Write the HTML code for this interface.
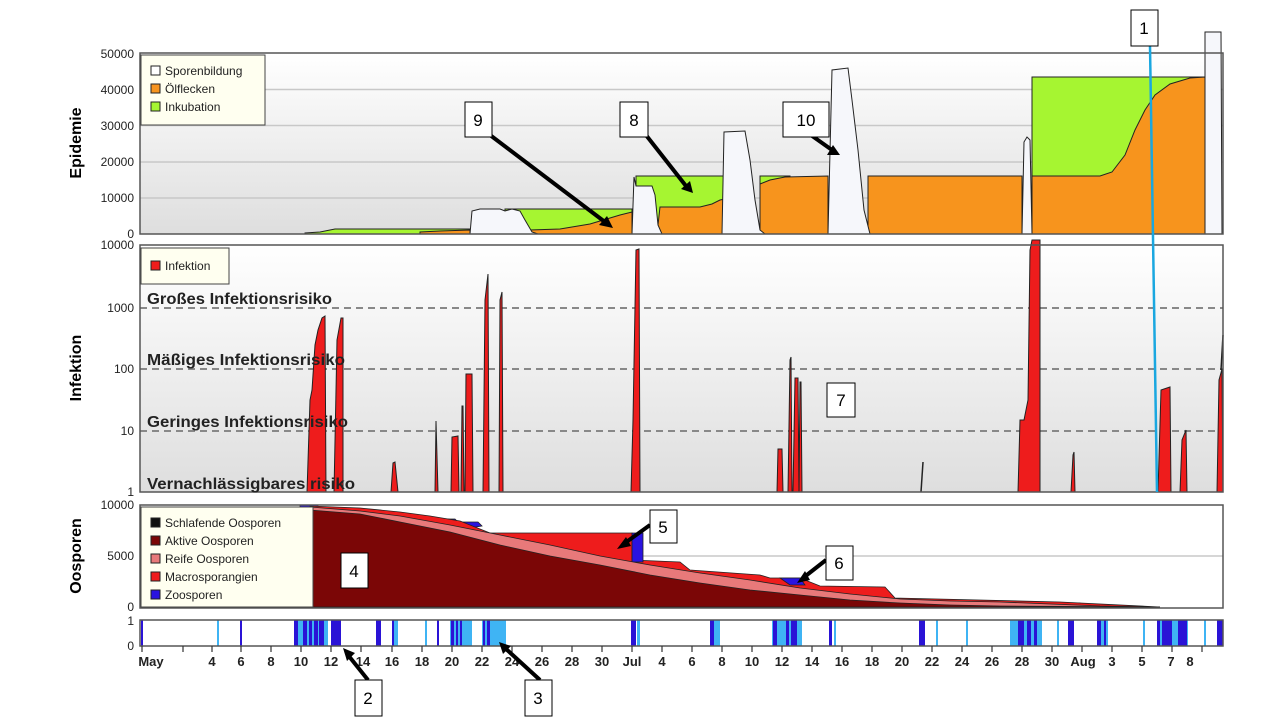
<!DOCTYPE html>
<html><head><meta charset="utf-8"><style>
html,body{margin:0;padding:0;background:#fff;}
svg{display:block;font-family:"Liberation Sans",Arial,sans-serif;}
</style></head><body>
<svg width="1280" height="720" viewBox="0 0 1280 720" xmlns="http://www.w3.org/2000/svg">
<defs>
<linearGradient id="bg" x1="0" y1="0" x2="0" y2="1"><stop offset="0" stop-color="#ffffff"/><stop offset="1" stop-color="#dedede"/></linearGradient>
</defs>
<rect width="1280" height="720" fill="#fff"/>

<!-- ===== Epidemie panel ===== -->
<rect x="140" y="53" width="1083" height="181" fill="url(#bg)"/>
<g stroke="#c8c8c8" stroke-width="1.5">
<line x1="140" y1="198" x2="1223" y2="198"/><line x1="140" y1="162" x2="1223" y2="162"/>
<line x1="140" y1="125.5" x2="1223" y2="125.5"/><line x1="140" y1="89.5" x2="1223" y2="89.5"/>
</g>
<g stroke="#222" stroke-width="1">
<polygon fill="#a6f531" points="305,234 305,233 320,232 335,229 470,229 470,234"/>
<polygon fill="#a6f531" points="505,234 505,209 632,209 632,234"/>
<polygon fill="#a6f531" points="636,234 636,176 725,176 725,234"/>
<polygon fill="#a6f531" points="760,234 760,176 790,176 790,234"/>
<polygon fill="#a6f531" points="1032,234 1032,77 1205,77 1205,234"/>
<polygon fill="#f7941d" points="420,234 420,232 440,231 470,230 470,234"/>
<polygon fill="#f7941d" points="528,234 530,230 560,229 590,224 620,215 632,212 632,234"/>
<polygon fill="#f7941d" points="657,234 660,207 700,207 712,204 720,200 725,199 725,234"/>
<polygon fill="#f7941d" points="760,234 760,184 770,180 785,177 828,176 828,234"/>
<polygon fill="#f7941d" points="868,234 868,176 1022,176 1022,234"/>
<polygon fill="#f7941d" points="1032,234 1032,176 1100,176 1112,172 1125,155 1135,130 1145,110 1155,95 1170,84 1190,78 1205,77 1205,234"/>
<polygon fill="#f6f7fb" points="470,234 472,211 480,209 500,209 505,211 512,209 520,211 525,220 532,232 538,234"/>
<polygon fill="#f6f7fb" points="632,234 634,177 636,186 652,186 655,195 658,225 662,234"/>
<polygon fill="#f6f7fb" points="722,234 724,132 745,131 750,160 755,200 760,230 765,234"/>
<polygon fill="#f6f7fb" points="828,234 832,70 848,68 852,100 858,150 864,210 870,234"/>
<polygon fill="#f6f7fb" points="1022,234 1024,142 1027,137 1030,140 1032,234"/>
<polygon fill="#f6f7fb" points="1205,234 1205,32 1221,32 1222,234"/>
</g>
<rect x="140" y="53" width="1083" height="181" fill="none" stroke="#555" stroke-width="1.5"/>
<g font-size="12" fill="#222" text-anchor="end">
<text x="134" y="238">0</text><text x="134" y="202">10000</text><text x="134" y="166">20000</text>
<text x="134" y="130">30000</text><text x="134" y="94">40000</text><text x="134" y="58">50000</text>
</g>
<text transform="translate(81,143) rotate(-90)" font-size="16" font-weight="bold" text-anchor="middle">Epidemie</text>
<rect x="141" y="55" width="124" height="70" fill="#fffff0" stroke="#444"/>
<g font-size="12" fill="#222">
<rect x="151" y="66" width="9" height="9" fill="#fff" stroke="#222"/><text x="165" y="75">Sporenbildung</text>
<rect x="151" y="84" width="9" height="9" fill="#f7941d" stroke="#222"/><text x="165" y="93">Ölflecken</text>
<rect x="151" y="102" width="9" height="9" fill="#a6f531" stroke="#222"/><text x="165" y="111">Inkubation</text>
</g>

<!-- ===== Infektion panel ===== -->
<rect x="140" y="245" width="1083" height="247" fill="url(#bg)"/>
<g stroke="#888" stroke-width="2" stroke-dasharray="7,5">
<line x1="140" y1="308" x2="1223" y2="308"/><line x1="140" y1="369" x2="1223" y2="369"/><line x1="140" y1="431" x2="1223" y2="431"/>
</g>
<g fill="#ee1c1c" stroke="#222" stroke-width="1">
<polygon points="307,492 310,400 312,390 315,345 318,330 322,318 325,316 326,492"/>
<polygon points="334,492 337,340 341,318 343,318 343,492"/>
<polygon points="391,492 393,463 395,462 398,492"/>
<polygon points="435,492 436,421 438,492"/>
<polygon points="451,492 452,437 458,436 459,492"/>
<polygon points="461,492 462,406 463,406 464,492"/>
<polygon points="465,492 466,374 472,374 473,492"/>
<polygon points="483,492 485,300 488,274 489,492"/>
<polygon points="499,492 500,300 502,292 503,492"/>
<polygon points="631,492 633,420 636,250 639,249 640,492"/>
<polygon points="777,492 778,449 782,449 783,492"/>
<polygon points="788,492 790,360 791,357 792,492"/>
<polygon points="793,492 795,378 798,378 799,492"/>
<polygon points="799,492 800,382 801,382 802,492"/>
<polygon points="1018,492 1020,420 1024,420 1028,400 1030,250 1032,240 1040,240 1040,492"/>
<polygon points="1071,492 1073,455 1074,452 1075,492"/>
<polygon points="1158,492 1161,390 1170,387 1171,492"/>
<polygon points="1180,492 1182,440 1186,430 1187,492"/>
<polygon points="1217,492 1219,380 1222,369 1223,492"/>
</g>
<line x1="921" y1="492" x2="923" y2="462" stroke="#222" stroke-width="1.5"/>
<line x1="1221" y1="370" x2="1223" y2="335" stroke="#222" stroke-width="1.5"/>
<rect x="140" y="245" width="1083" height="247" fill="none" stroke="#555" stroke-width="1.5"/>
<g font-size="12" fill="#222" text-anchor="end">
<text x="134" y="249">10000</text><text x="134" y="312">1000</text><text x="134" y="373">100</text>
<text x="134" y="435">10</text><text x="134" y="496">1</text>
</g>
<g font-size="16" font-weight="bold" fill="#222" lengthAdjust="spacingAndGlyphs">
<text x="147" y="304" textLength="185" lengthAdjust="spacingAndGlyphs">Großes Infektionsrisiko</text>
<text x="147" y="365" textLength="198" lengthAdjust="spacingAndGlyphs">Mäßiges Infektionsrisiko</text>
<text x="147" y="427" textLength="201" lengthAdjust="spacingAndGlyphs">Geringes Infektionsrisiko</text>
<text x="147" y="489" textLength="208" lengthAdjust="spacingAndGlyphs">Vernachlässigbares risiko</text>
</g>
<text transform="translate(81,368) rotate(-90)" font-size="16" font-weight="bold" text-anchor="middle">Infektion</text>
<rect x="141" y="248" width="88" height="36" fill="#fffff0" stroke="#444"/>
<rect x="151" y="261" width="9" height="9" fill="#ee1c1c" stroke="#222"/><text x="165" y="270" font-size="12" fill="#222">Infektion</text>

<!-- ===== Oosporen panel ===== -->
<rect x="140" y="505" width="1083" height="103" fill="#fff"/>
<line x1="140" y1="556" x2="1223" y2="556" stroke="#c8c8c8" stroke-width="1.5"/>
<g stroke="#222" stroke-width="0.8">
<polygon fill="#2a13e0" points="300,505 318,505 318,510 300,510"/>
<polygon fill="#2a13e0" points="438,519 455,519 458,522 478,522 482,526 470,528 440,523"/>
<polygon fill="#2a13e0" points="1068,604 1080,603 1084,606 1070,606"/>
<polygon fill="#ee1c1c" points="310,607 310,506 360,508 400,512 430,516 460,521 490,533 632,533 632,560 680,562 690,570 760,575 770,578 800,578 820,586 885,587 895,598 1060,602 1160,607"/>
<polygon fill="#2a13e0" points="632,533 643,533 643,562 632,562"/>
<polygon fill="#2a13e0" points="780,578 800,578 805,585 790,585"/>
<polygon fill="#e8797a" points="310,607 310,507 360,511 400,516 450,525 500,535 550,545 600,556 650,565 700,573 750,580 800,588 850,594 900,599 950,601 1000,602 1050,604 1100,606 1160,607"/>
<polygon fill="#7b0606" points="310,607 310,510 360,514 400,522 450,532 500,545 550,556 600,565 650,575 700,583 750,590 800,595 850,600 900,603 950,605 1000,606 1160,607"/>
</g>
<rect x="140" y="505" width="1083" height="103" fill="none" stroke="#555" stroke-width="1.5"/>
<g font-size="12" fill="#222" text-anchor="end">
<text x="134" y="509">10000</text><text x="134" y="560">5000</text><text x="134" y="611">0</text>
</g>
<text transform="translate(81,556) rotate(-90)" font-size="16" font-weight="bold" text-anchor="middle">Oosporen</text>
<rect x="141" y="507" width="172" height="100" fill="#fffff0" stroke="#444"/>
<g font-size="12" fill="#222">
<rect x="151" y="518" width="9" height="9" fill="#111" stroke="#222"/><text x="165" y="527">Schlafende Oosporen</text>
<rect x="151" y="536" width="9" height="9" fill="#7b0606" stroke="#222"/><text x="165" y="545">Aktive Oosporen</text>
<rect x="151" y="554" width="9" height="9" fill="#e8797a" stroke="#222"/><text x="165" y="563">Reife Oosporen</text>
<rect x="151" y="572" width="9" height="9" fill="#ee1c1c" stroke="#222"/><text x="165" y="581">Macrosporangien</text>
<rect x="151" y="590" width="9" height="9" fill="#2a13e0" stroke="#222"/><text x="165" y="599">Zoosporen</text>
</g>

<!-- ===== Strip ===== -->
<rect x="140" y="620" width="1083" height="26" fill="#fff"/>
<g fill="#3fb4f4">
<rect x="217" y="620" width="2" height="26"/><rect x="296" y="620" width="32" height="26"/>
<rect x="392" y="620" width="6" height="26"/><rect x="425" y="620" width="2" height="26"/>
<rect x="450" y="620" width="22" height="26"/><rect x="482" y="620" width="24" height="26"/>
<rect x="637" y="620" width="3" height="26"/><rect x="710" y="620" width="10" height="26"/>
<rect x="772" y="620" width="30" height="26"/><rect x="834" y="620" width="2" height="26"/>
<rect x="936" y="620" width="2" height="26"/><rect x="966" y="620" width="2" height="26"/>
<rect x="1010" y="620" width="32" height="26"/><rect x="1057" y="620" width="2" height="26"/>
<rect x="1100" y="620" width="8" height="26"/><rect x="1143" y="620" width="2" height="26"/>
<rect x="1158" y="620" width="30" height="26"/><rect x="1204" y="620" width="2" height="26"/>
</g>
<g fill="#2a13d6">
<rect x="141" y="620" width="2" height="26"/><rect x="240" y="620" width="2" height="26"/>
<rect x="294" y="620" width="4" height="26"/><rect x="303" y="620" width="4" height="26"/><rect x="309" y="620" width="3" height="26"/>
<rect x="314" y="620" width="4" height="26"/><rect x="319" y="620" width="5" height="26"/>
<rect x="331" y="620" width="10" height="26"/><rect x="376" y="620" width="5" height="26"/>
<rect x="392" y="620" width="2" height="26"/><rect x="437" y="620" width="2" height="26"/>
<rect x="451" y="620" width="3" height="26"/><rect x="456" y="620" width="2" height="26"/><rect x="460" y="620" width="2" height="26"/>
<rect x="483" y="620" width="2" height="26"/><rect x="487" y="620" width="3" height="26"/>
<rect x="631" y="620" width="5" height="26"/><rect x="710" y="620" width="4" height="26"/>
<rect x="773" y="620" width="4" height="26"/><rect x="786" y="620" width="3" height="26"/><rect x="791" y="620" width="6" height="26"/>
<rect x="829" y="620" width="3" height="26"/><rect x="919" y="620" width="6" height="26"/>
<rect x="1018" y="620" width="6" height="26"/><rect x="1027" y="620" width="4" height="26"/><rect x="1034" y="620" width="3" height="26"/>
<rect x="1068" y="620" width="6" height="26"/><rect x="1097" y="620" width="4" height="26"/><rect x="1104" y="620" width="2" height="26"/>
<rect x="1157" y="620" width="3" height="26"/><rect x="1162" y="620" width="10" height="26"/>
<rect x="1178" y="620" width="9" height="26"/><rect x="1217" y="620" width="6" height="26"/>
</g>
<rect x="140" y="620" width="1083" height="26" fill="none" stroke="#555" stroke-width="1.5"/>
<g font-size="12" fill="#222" text-anchor="end"><text x="134" y="625">1</text><text x="134" y="650">0</text></g>
<g stroke="#333" stroke-width="1.2">
<line x1="142" y1="646" x2="142" y2="652"/><line x1="183" y1="646" x2="183" y2="652"/>
<line x1="212" y1="646" x2="212" y2="652"/><line x1="241" y1="646" x2="241" y2="652"/><line x1="271" y1="646" x2="271" y2="652"/>
<line x1="301" y1="646" x2="301" y2="652"/><line x1="331" y1="646" x2="331" y2="652"/><line x1="361" y1="646" x2="361" y2="652"/>
<line x1="392" y1="646" x2="392" y2="652"/><line x1="422" y1="646" x2="422" y2="652"/><line x1="452" y1="646" x2="452" y2="652"/>
<line x1="482" y1="646" x2="482" y2="652"/><line x1="512" y1="646" x2="512" y2="652"/><line x1="542" y1="646" x2="542" y2="652"/>
<line x1="572" y1="646" x2="572" y2="652"/><line x1="602" y1="646" x2="602" y2="652"/><line x1="632" y1="646" x2="632" y2="652"/>
<line x1="662" y1="646" x2="662" y2="652"/><line x1="692" y1="646" x2="692" y2="652"/><line x1="722" y1="646" x2="722" y2="652"/>
<line x1="752" y1="646" x2="752" y2="652"/><line x1="782" y1="646" x2="782" y2="652"/><line x1="812" y1="646" x2="812" y2="652"/>
<line x1="842" y1="646" x2="842" y2="652"/><line x1="872" y1="646" x2="872" y2="652"/><line x1="902" y1="646" x2="902" y2="652"/>
<line x1="932" y1="646" x2="932" y2="652"/><line x1="962" y1="646" x2="962" y2="652"/><line x1="992" y1="646" x2="992" y2="652"/>
<line x1="1022" y1="646" x2="1022" y2="652"/><line x1="1052" y1="646" x2="1052" y2="652"/><line x1="1082" y1="646" x2="1082" y2="652"/>
<line x1="1112" y1="646" x2="1112" y2="652"/><line x1="1142" y1="646" x2="1142" y2="652"/><line x1="1172" y1="646" x2="1172" y2="652"/>
<line x1="1202" y1="646" x2="1202" y2="652"/>
</g>
<g font-size="13" font-weight="bold" fill="#222" text-anchor="middle">
<text x="151" y="666">May</text><text x="212" y="666">4</text><text x="241" y="666">6</text><text x="271" y="666">8</text>
<text x="301" y="666">10</text><text x="331" y="666">12</text><text x="363" y="666">14</text><text x="392" y="666">16</text>
<text x="422" y="666">18</text><text x="452" y="666">20</text><text x="482" y="666">22</text><text x="512" y="666">24</text>
<text x="542" y="666">26</text><text x="572" y="666">28</text><text x="602" y="666">30</text><text x="632" y="666">Jul</text>
<text x="662" y="666">4</text><text x="692" y="666">6</text><text x="722" y="666">8</text><text x="752" y="666">10</text>
<text x="782" y="666">12</text><text x="812" y="666">14</text><text x="842" y="666">16</text><text x="872" y="666">18</text>
<text x="902" y="666">20</text><text x="932" y="666">22</text><text x="962" y="666">24</text><text x="992" y="666">26</text>
<text x="1022" y="666">28</text><text x="1052" y="666">30</text><text x="1083" y="666">Aug</text><text x="1112" y="666">3</text>
<text x="1142" y="666">5</text><text x="1171" y="666">7</text><text x="1190" y="666">8</text>
</g>

<!-- ===== Annotations ===== -->
<line x1="1150" y1="46" x2="1157" y2="492" stroke="#1aa7e0" stroke-width="2.5"/>
<g stroke="#000" stroke-width="4" stroke-linecap="butt">
<line x1="368" y1="680" x2="348" y2="655"/><line x1="540" y1="680" x2="505" y2="648"/>
<line x1="650" y1="525" x2="625" y2="543"/><line x1="826" y1="560" x2="803" y2="578"/>
<line x1="642" y1="130" x2="686" y2="186"/><line x1="490" y1="135" x2="605" y2="222"/>
<line x1="808" y1="133" x2="832" y2="150"/>
</g>
<g fill="#000">
<polygon points="343,648 355,653 347,661"/><polygon points="499,642 511,646 503,654"/>
<polygon points="617,549 626,537 631,546"/><polygon points="797,583 805,571 810,580"/>
<polygon points="693,193 681,189 690,181"/><polygon points="613,228 599,225 607,216"/>
<polygon points="840,155 827,155 833,145"/>
</g>
<g fill="#fff" stroke="#000" stroke-width="1">
<rect x="1131" y="10" width="27" height="36"/><rect x="355" y="680" width="27" height="36"/>
<rect x="525" y="680" width="27" height="36"/><rect x="341" y="553" width="27" height="35"/>
<rect x="650" y="510" width="27" height="33"/><rect x="826" y="546" width="27" height="34"/>
<rect x="827" y="383" width="28" height="34"/><rect x="620" y="102" width="28" height="35"/>
<rect x="465" y="102" width="27" height="35"/><rect x="783" y="102" width="46" height="35"/>
</g>
<g font-size="17" fill="#000" text-anchor="middle">
<text x="1144" y="34">1</text><text x="368" y="704">2</text><text x="538" y="704">3</text><text x="354" y="577">4</text>
<text x="663" y="533">5</text><text x="839" y="569">6</text><text x="841" y="406">7</text><text x="634" y="126">8</text>
<text x="478" y="126">9</text><text x="806" y="126">10</text>
</g>
</svg>
</body></html>
